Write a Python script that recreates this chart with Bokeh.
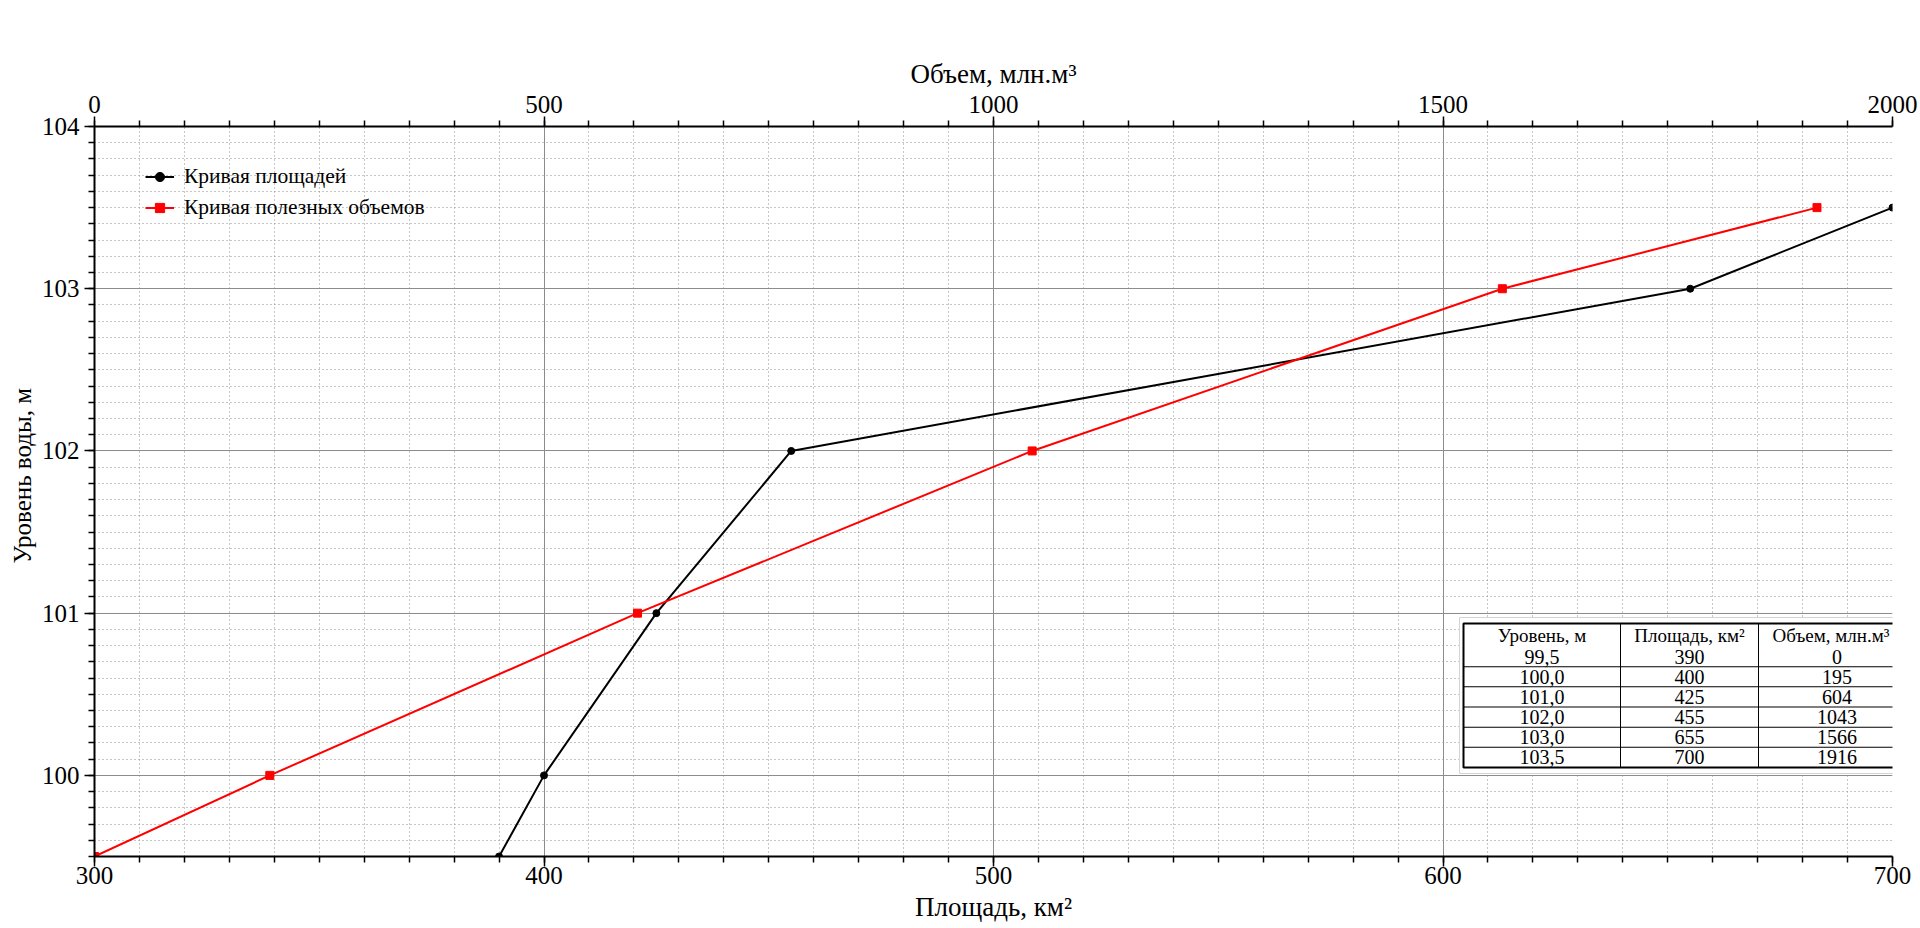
import numpy as np
from bokeh.plotting import figure
from bokeh.models import (Range1d, LinearAxis, FixedTicker, Legend, LegendItem,
                          BoxAnnotation, Label, Title)
from bokeh.embed import file_html
from bokeh.resources import INLINE

# ---- data ----
levels = [99.5, 100.0, 101.0, 102.0, 103.0, 103.5]
areas = [390, 400, 425, 455, 655, 700]
volumes = [0, 195, 604, 1043, 1566, 1916]

area_major = [300, 400, 500, 600, 700]
area_minor = list(range(300, 701, 10))
vol_major = [0, 500, 1000, 1500, 2000]
vol_minor = list(range(0, 2001, 50))
level_major = [100, 101, 102, 103, 104]
level_minor = [round(99.5 + 0.1 * i, 1) for i in range(46)]

table_header = ["Уровень, м", "Площадь, км²", "Объем, млн.м³"]
legend_labels = ["Кривая площадей", "Кривая полезных объемов"]

FONT = "Liberation Serif"
TICK_FS = "25px"
TITLE_FS = "27px"

p = figure(width=1920, height=928,
           x_range=Range1d(300, 700), y_range=Range1d(99.5, 104),
           output_backend="svg", toolbar_location=None,
           min_border_left=94, min_border_right=28,
           min_border_top=126, min_border_bottom=72)
p.extra_x_ranges = {"vol": Range1d(0, 2000)}
p.outline_line_color = None
p.background_fill_color = "white"
p.border_fill_color = "white"

top_axis = LinearAxis(x_range_name="vol", axis_label="Объем, млн.м³")
p.add_layout(top_axis, "above")

bottom_axis = p.below[0]
left_axis = p.left[0]
bottom_axis.axis_label = "Площадь, км²"

bottom_axis.ticker = FixedTicker(ticks=area_major, minor_ticks=area_minor)
top_axis.ticker = FixedTicker(ticks=vol_major, minor_ticks=vol_minor)
left_axis.ticker = FixedTicker(ticks=level_major, minor_ticks=level_minor)

for ax in (bottom_axis, top_axis, left_axis):
    ax.axis_line_color = "black"
    ax.axis_line_width = 2
    ax.major_tick_line_color = "black"
    ax.major_tick_line_width = 1.5
    ax.minor_tick_line_color = "black"
    ax.minor_tick_line_width = 1.5
    ax.major_tick_out = 10
    ax.major_tick_in = 0
    ax.minor_tick_out = 6
    ax.minor_tick_in = 0
    ax.major_label_text_font = FONT
    ax.major_label_text_font_size = TICK_FS
    ax.major_label_text_color = "black"
    ax.axis_label_text_font = FONT
    ax.axis_label_text_font_size = TITLE_FS
    ax.axis_label_text_font_style = "normal"
    ax.axis_label_text_color = "black"

bottom_axis.major_label_standoff = 0
top_axis.major_label_standoff = 4
left_axis.major_label_standoff = 5
bottom_axis.axis_label_standoff = 5
top_axis.axis_label_standoff = 4

# y-axis title: a side title, placed a bit above centre like in the original
ytitle = Title(text="Уровень воды, м", align="left", offset=293,
               text_font=FONT, text_font_size="25px",
               text_font_style="normal", text_color="black", standoff=6)
p.add_layout(ytitle, "left")

for g in (p.xgrid[0], p.ygrid[0]):
    g.grid_line_color = "#8c8c8c"
    g.grid_line_width = 1
    g.minor_grid_line_color = "#8c8c8c"
    g.minor_grid_line_width = 1
    g.minor_grid_line_dash = "1 3"

# ---- curves ----
bl = p.line(areas, levels, line_color="black", line_width=2)
bs = p.scatter(areas, levels, marker="circle", size=7, fill_color="black",
               line_color="black")
rl = p.line(volumes, levels, x_range_name="vol", line_color="red", line_width=2)
rs = p.scatter(volumes, levels, x_range_name="vol", marker="square", size=8,
               fill_color="red", line_color="red")

legend = Legend(items=[LegendItem(label=legend_labels[0], renderers=[bl, bs]),
                       LegendItem(label=legend_labels[1], renderers=[rl, rs])],
                location=(51, 636))
legend.background_fill_alpha = 0
legend.border_line_color = None
legend.padding = 0
legend.margin = 0
legend.glyph_width = 29
legend.glyph_height = 23
legend.label_height = 23
legend.spacing = 6
legend.label_standoff = 10
legend.label_text_font = FONT
legend.label_text_font_size = "21.5px"
legend.label_text_color = "black"
p.add_layout(legend)

# ---- table (screen units relative to the frame's bottom-left) ----
col_edges = [1369, 1526, 1664, 1821]
tab_bottom, tab_top, header_bottom = 89, 233, 210
row_h = (header_bottom - tab_bottom) / len(levels)


def sbox(**kw):
    return BoxAnnotation(left_units="screen", right_units="screen",
                         top_units="screen", bottom_units="screen",
                         line_dash="solid", **kw)


p.add_layout(sbox(left=1365, right=1826, bottom=83, top=239,
                  fill_color="white", fill_alpha=1,
                  line_color="#d4d4d4", line_alpha=1, line_width=1))
for k in range(1, len(levels)):
    y = tab_bottom + k * row_h
    p.add_layout(sbox(left=col_edges[0], right=col_edges[-1],
                      bottom=y - 0.5, top=y + 0.5,
                      fill_color="black", fill_alpha=1, line_color=None))
for xe in col_edges[1:-1]:
    p.add_layout(sbox(left=xe - 0.5, right=xe + 0.5,
                      bottom=tab_bottom, top=tab_top,
                      fill_color="black", fill_alpha=1, line_color=None))
p.add_layout(sbox(left=col_edges[0], right=col_edges[-1],
                  bottom=tab_bottom, top=tab_top,
                  fill_alpha=0, line_color="black", line_alpha=1, line_width=2))

centers = [(col_edges[i] + col_edges[i + 1]) / 2 for i in range(3)]
header_shift = [0, 0, -6]
hy = (header_bottom + tab_top) / 2
for cx, dx, txt in zip(centers, header_shift, table_header):
    p.add_layout(Label(x=cx + dx, y=hy, x_units="screen", y_units="screen",
                       text=txt, text_align="center", text_baseline="middle",
                       text_font=FONT, text_font_size="19px", text_color="black"))
for k, (lv, ar, vo) in enumerate(zip(levels, areas, volumes)):
    cy = header_bottom - (k + 0.5) * row_h
    cells = [f"{lv:.1f}".replace(".", ","), str(ar), str(vo)]
    for cx, txt in zip(centers, cells):
        p.add_layout(Label(x=cx, y=cy, x_units="screen", y_units="screen",
                           text=txt, text_align="center", text_baseline="middle",
                           text_font=FONT, text_font_size="20px",
                           text_color="black"))

open("out.html", "w").write(file_html(p, INLINE))
